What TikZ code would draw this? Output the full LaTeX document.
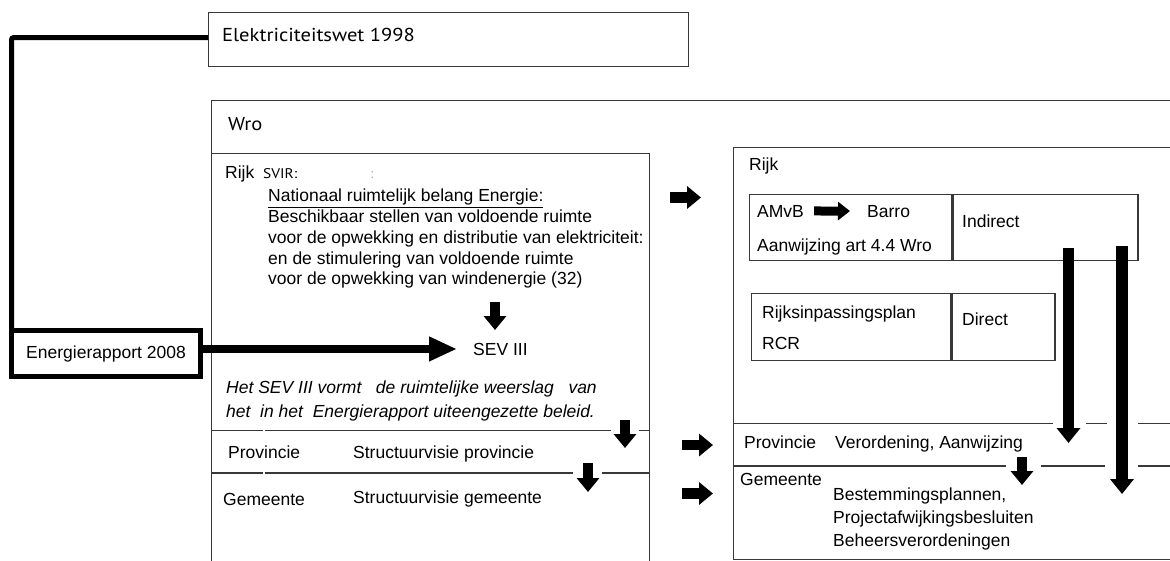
\documentclass[tikz,border=0pt]{standalone}
\usepackage{fontspec}
\setmainfont{Liberation Sans}
\newfontfamily\tahomafont[FakeStretch=1.1]{PT Sans}
\usetikzlibrary{arrows.meta,positioning,calc}

\begin{document}
\begin{tikzpicture}[x=1pt,y=-1pt,
    box/.style={draw=black!78,line width=1.3pt,inner sep=0pt,anchor=north west},
    rule/.style={draw=black!78,line width=1.3pt},
    lbl/.style={inner sep=0pt,anchor=base west,font=\fontsize{17.5}{20.75}\selectfont},
    tlbl/.style={inner sep=0pt,anchor=base west,font=\tahomafont\fontsize{18.7}{21}\selectfont},
    blk/.style={line width=10.5pt,-{Triangle[length=14pt,width=22pt]}},
    smallblk/.style={line width=9pt,-{Triangle[length=12pt,width=18pt]}},
    longblk/.style={line width=11.5pt,-{Triangle[length=15pt,width=23pt]}},
    thickline/.style={line width=5pt,rounded corners=2pt}
]
\useasboundingbox (0,0) rectangle (1170,560);
\clip (0,0) rectangle (1170,560);

% frames
\node[box,minimum width=480pt,minimum height=54pt] (elwet) at (208,12) {};
\node[box,minimum width=980pt,minimum height=480pt] (wro) at (211,100) {};
\node[box,minimum width=438pt,minimum height=430pt] (rijkL) at (211,153) {};
\node[box,minimum width=460pt,minimum height=412pt] (rijkR) at (733,147) {};
\node[box,minimum width=202pt,minimum height=66pt] (amvb) at (749,194) {};
\node[box,minimum width=185pt,minimum height=66pt,right=0pt of amvb] (indirect) {};
\node[box,minimum width=199pt,minimum height=67pt] (rip) at (751,293) {};
\node[box,minimum width=103pt,minimum height=67pt,right=0pt of rip] (direct) {};
\node[draw,line width=5pt,outer sep=0pt,inner sep=0pt,anchor=north west,
      minimum width=189pt,minimum height=46pt,
      font=\fontsize{17.5}{20.75}\selectfont] (energ) at (11.5,330.5) {Energierapport 2008};

% row rules
\draw[rule] (211,430.5) -- (263,430.5) (265,430.5) -- (611,430.5) (639,430.5) -- (649,430.5);
\draw[rule] (211,473) -- (263,473) (265,473) -- (573,473) (602,473) -- (649,473);
\draw[rule] (733,423.5) -- (1053,423.5) (1086,423.5) -- (1107,423.5) (1138,423.5) -- (1180,423.5);
\draw[rule] (733,466) -- (1006,466) (1041,466) -- (1105,466) (1138,466) -- (1180,466);

% texts left
\node[tlbl] (elwettxt) at (222,41) {Elektriciteitswet 1998};
\node[tlbl] (wrotxt) at (228,130) {Wro};
\node[lbl] (rijkLtxt) at (225,178) {Rijk};
\node[tlbl,font=\tahomafont\fontsize{14}{16}\selectfont] (svir) at (263,178) {SVIR:};
\node[tlbl,font=\tahomafont\fontsize{14}{16}\selectfont,text=black!30] (svircolon) at (370,178) {:};
\node[lbl,anchor=north west,align=left] (belang) at (268,189) {\underline{Nationaal ruimtelijk belang Energie:}\\Beschikbaar stellen van voldoende ruimte\\voor de opwekking en distributie van elektriciteit:\\en de stimulering van voldoende ruimte\\voor de opwekking van windenergie (32)};
\node[lbl] (sev) at (473,355) {SEV III};
\node[lbl,anchor=north west,align=left,font=\itshape\fontsize{17.5}{24}\selectfont] (sevnote) at (226,381) {Het SEV III vormt\ \ \ de ruimtelijke weerslag\ \ \ van\\het\ \ in het\ \ Energierapport uiteengezette beleid.};
\node[lbl] (provL) at (228,458) {Provincie};
\node[lbl] (svprov) at (353,458) {Structuurvisie provincie};
\node[lbl] (gemL) at (223,505) {Gemeente};
\node[lbl] (svgem) at (353,503) {Structuurvisie gemeente};

% texts right
\node[lbl] (rijkRtxt) at (749,170) {Rijk};
\node[lbl] (amvbtxt) at (757,217) {AMvB};
\node[lbl] (barro) at (867,217) {Barro};
\node[lbl] (aanw) at (757,251) {Aanwijzing art 4.4 Wro};
\node[lbl] (indtxt) at (962,227) {Indirect};
\node[lbl] (riptxt) at (762,318) {Rijksinpassingsplan};
\node[lbl] (rcr) at (762,349) {RCR};
\node[lbl] (dirtxt) at (962,325) {Direct};
\node[lbl] (provR) at (744,448) {Provincie};
\node[lbl] (verord) at (835,448) {Verordening, Aanwijzing};
\node[lbl] (gemR) at (740,485) {Gemeente};
\node[lbl,anchor=north west,align=left,font=\fontsize{17.5}{23}\selectfont] (bestem) at (833,487.5) {Bestemmingsplannen,\\Projectafwijkingsbesluiten\\Beheersverordeningen};

% connectors
\draw[thickline] ([yshift=2pt]elwet.west) -| (energ.north west);
\draw[line width=7.5pt,-{Triangle[length=28pt,width=23pt]}] (energ.east |- sev) -- ([xshift=-16pt]sev.west);
\draw[smallblk] ([xshift=10pt]amvbtxt.east |- amvbtxt.center) -- ([xshift=-17pt]barro.west);

% block arrows
\coordinate (sevtop) at (495,302);
\coordinate (provtop) at (625,420);
\coordinate (gemtop) at (588,463);
\coordinate (rijkgo) at (670,197.5);
\coordinate (provgo) at (682,445);
\coordinate (gemgo) at (682,493.5);
\coordinate (indA) at (1068.5,248);
\coordinate (indB) at (1122,246);
\coordinate (verdown) at (1022,457);
\draw[blk] (sevtop) -- ++(0,28);
\draw[blk] (provtop) -- ++(0,28);
\draw[blk] (gemtop) -- ++(0,29);
\draw[blk] (rijkgo) -- ++(31,0);
\draw[blk] (provgo) -- ++(31,0);
\draw[blk] (gemgo) -- ++(31,0);
\draw[blk] (verdown) -- ++(0,28);
\draw[longblk] (indA) -- ++(0,195);
\draw[longblk] (indB) -- ++(0,248);
\end{tikzpicture}
\end{document}
